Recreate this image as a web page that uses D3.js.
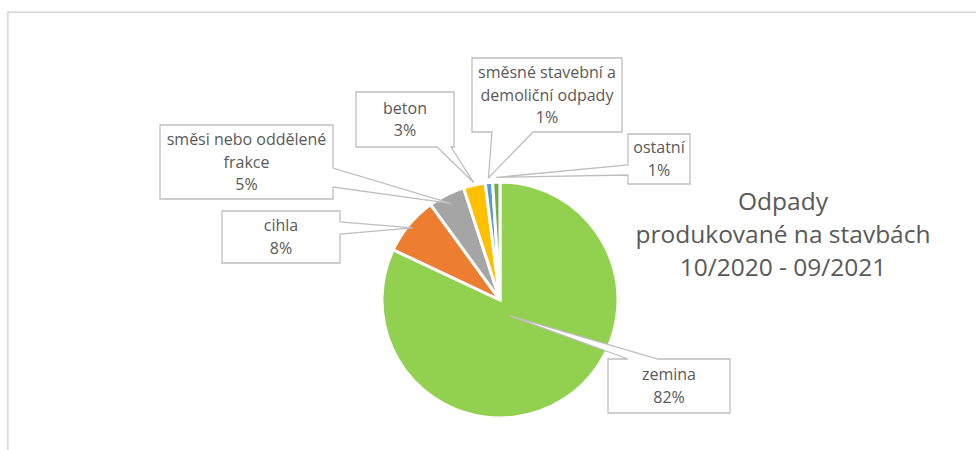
<!DOCTYPE html>
<html>
<head>
<meta charset="utf-8">
<script src="https://cdn.jsdelivr.net/npm/d3@7"></script>
<style>
  html, body { margin: 0; padding: 0; background: #fff; }
  svg { display: block; }
  text { font-family: "Open Sans", "Noto Sans", sans-serif; fill: #595959; }
</style>
</head>
<body>
<svg id="chart" width="976" height="450"></svg>
<script>
// Waste categories and their shares (%)
const categories = ["zemina", "cihla", "směsi nebo oddělené frakce", "beton", "směsné stavební a demoliční odpady", "ostatní"];
const shares = [82, 8, 5, 3, 1, 1];
const titleLines = ["Odpady", "produkované na stavbách", "10/2020 - 09/2021"];

// Slice colours
const palette = ["#92D050", "#ED7D31", "#A5A5A5", "#FFC000", "#5B9BD5", "#70AD47"];

// Callout layout: box, pointer side, pointer base, pointer tip radius (fraction of R), wrap width
const callouts = [
  { x: 608, y: 359, w: 122, h: 54, side: "top",    b0: 628, b1: 658, tip: 0.16, wrap: 110 },
  { x: 222, y: 211, w: 118, h: 52, side: "right",  b0: 222, b1: 234, tip: 0.96, wrap: 110 },
  { x: 160, y: 125, w: 173, h: 74, side: "right",  b0: 168, b1: 187, tip: 0.92, wrap: 168 },
  { x: 356, y: 92,  w: 98,  h: 55, side: "bottom", b0: 437, b1: 451, tip: 1.02, wrap: 90 },
  { x: 472, y: 58,  w: 150, h: 74, side: "bottom", b0: 492, b1: 533, tip: 1.04, wrap: 146 },
  { x: 628, y: 134, w: 62,  h: 50, side: "left",   b0: 165, b1: 175, tip: 1.04, wrap: 60 }
];

const svg = d3.select("#chart");
const cx = 500, cy = 300, R = 118;
const labelSize = 16, titleSize = 24.5;

// chart area frame (runs off the right and bottom edges)
svg.append("rect")
  .attr("x", 7.75).attr("y", 12.25)
  .attr("width", 1100).attr("height", 600)
  .attr("fill", "none")
  .attr("stroke", "#d9d9d9")
  .attr("stroke-width", 1.75);

const pie = d3.pie().sort(null).value(d => d);
const arcs = pie(shares);
const arc = d3.arc().innerRadius(0).outerRadius(R);

const g = svg.append("g").attr("transform", `translate(${cx},${cy})`);
g.selectAll("path.slice")
  .data(arcs)
  .join("path")
  .attr("class", "slice")
  .attr("d", arc)
  .attr("fill", (d, i) => palette[i])
  .attr("stroke", "#fff")
  .attr("stroke-width", 3)
  .attr("stroke-linejoin", "miter");

const total = d3.sum(shares);
const pctFmt = v => Math.round(v / total * 100) + "%";

// wedge-shaped callout outline: rectangle with a pointer to the tip
function calloutPath(c, tx, ty) {
  const x0 = c.x, y0 = c.y, x1 = c.x + c.w, y1 = c.y + c.h;
  const p = d3.path();
  p.moveTo(x0, y0);
  if (c.side === "top") { p.lineTo(c.b0, y0); p.lineTo(tx, ty); p.lineTo(c.b1, y0); }
  p.lineTo(x1, y0);
  if (c.side === "right") { p.lineTo(x1, c.b0); p.lineTo(tx, ty); p.lineTo(x1, c.b1); }
  p.lineTo(x1, y1);
  if (c.side === "bottom") { p.lineTo(c.b1, y1); p.lineTo(tx, ty); p.lineTo(c.b0, y1); }
  p.lineTo(x0, y1);
  if (c.side === "left") { p.lineTo(x0, c.b1); p.lineTo(tx, ty); p.lineTo(x0, c.b0); }
  p.closePath();
  return p.toString();
}

const labels = svg.append("g");
arcs.forEach((a, i) => {
  const c = callouts[i];
  const mid = (a.startAngle + a.endAngle) / 2;
  const r = R * c.tip;
  const tx = cx + Math.sin(mid) * r;
  const ty = cy - Math.cos(mid) * r;

  labels.append("path")
    .attr("d", calloutPath(c, tx, ty))
    .attr("fill", "#fff")
    .attr("stroke", "#bfbfbf")
    .attr("stroke-width", 1.3)
    .attr("stroke-linejoin", "miter");

  const t = labels.append("text")
    .attr("text-anchor", "middle")
    .attr("font-size", labelSize);

  // wrap the category name to the box width
  const words = categories[i].split(" ");
  const lines = [];
  let cur = "";
  const probe = labels.append("text").attr("font-size", labelSize);
  words.forEach(w => {
    const test = cur ? cur + " " + w : w;
    probe.text(test);
    if (cur && probe.node().getComputedTextLength() > c.wrap) { lines.push(cur); cur = w; }
    else cur = test;
  });
  lines.push(cur);
  probe.remove();
  lines.push(pctFmt(shares[i]));

  const lh = 22.5;
  const midY = c.y + c.h / 2;
  lines.forEach((ln, k) => {
    t.append("tspan")
      .attr("x", c.x + c.w / 2)
      .attr("y", midY + (k - (lines.length - 1) / 2) * lh)
      .attr("dy", "0.35em")
      .text(ln);
  });
});

// chart title
const title = svg.append("text")
  .attr("text-anchor", "middle")
  .attr("font-size", titleSize);
[210, 243, 276].forEach((y, k) => {
  title.append("tspan").attr("x", 783).attr("y", y).text(titleLines[k]);
});
</script>
</body>
</html>
